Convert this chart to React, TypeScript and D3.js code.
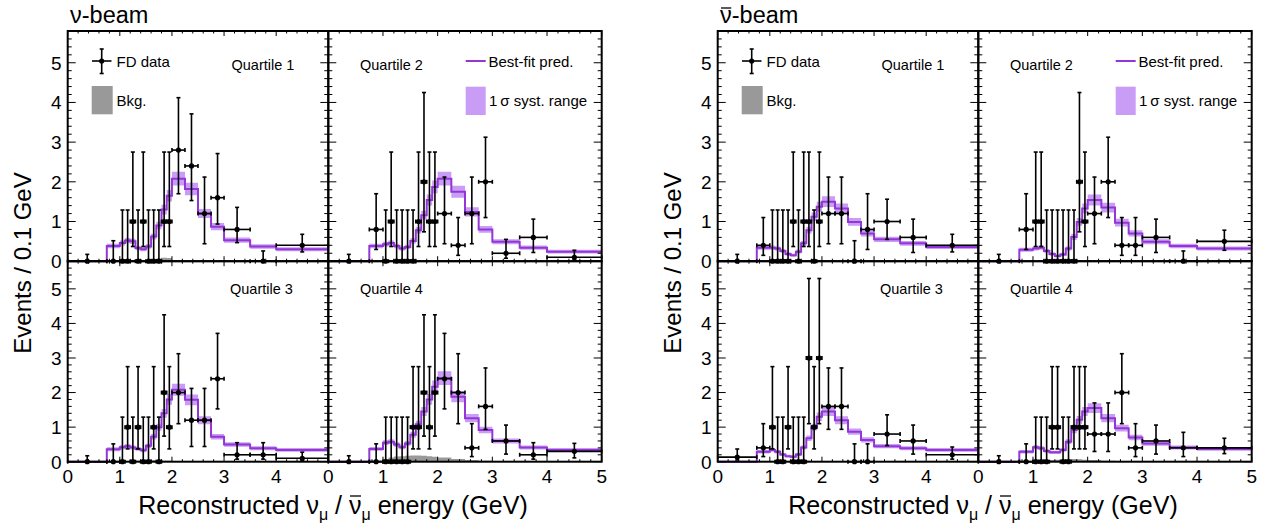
import React, { useLayoutEffect, useRef, useState } from "react";
import * as d3 from "d3";

// bin edges of the reconstructed energy histogram (GeV)
const EDGES = [0, 0.75, 1, 1.1, 1.2, 1.3, 1.4, 1.5, 1.6, 1.7, 1.8, 1.9, 2, 2.25, 2.5, 2.75, 3, 3.5, 4, 5];

// Feldman-Cousins 68% intervals for n observed events (b = 0)
const FC_LOW = [0, 0.37, 0.74, 1.1, 2.34, 2.75, 3.82, 4.25, 5.3];
const FC_HIGH = [1.29, 2.75, 4.25, 5.3, 6.78, 7.81, 9.28, 10.3, 11.32];

// observed FD events per bin
const nuQ1Counts = [0, 0, 0, 0, 1, 0, 1, 0, 0, 0, 1, 1, 7, 6, 3, 4, 4, 0, 4];
const nuQ2Counts = [0, 2, 0, 1, 0, 0, 0, 0, 1, 2, 1, 1, 3, 1, 3, 5, 1, 3, 1];
const nuQ3Counts = [0, 0, 0, 1, 0, 1, 0, 0, 1, 0, 2, 1, 5, 3, 3, 6, 1, 1, 1];
const nuQ4Counts = [0, 0, 0, 0, 0, 0, 0, 1, 1, 2, 1, 2, 6, 5, 1, 4, 3, 1, 3];
const anuQ1Counts = [0, 1, 0, 0, 0, 0, 1, 0, 1, 1, 0, 1, 3, 3, 0, 2, 5, 3, 4];
const anuQ2Counts = [0, 2, 1, 1, 0, 0, 0, 0, 0, 0, 2, 1, 3, 5, 1, 1, 3, 0, 5];
const anuQ3Counts = [1, 1, 1, 0, 0, 1, 0, 0, 0, 3, 1, 3, 4, 4, 0, 0, 4, 3, 2];
const anuQ4Counts = [0, 0, 0, 0, 0, 1, 1, 0, 0, 1, 1, 1, 2, 2, 5, 1, 3, 2, 4];

// best-fit prediction, events / 0.1 GeV
const nuQ1Pred = [0, 0.38, 0.46, 0.52, 0.5, 0.33, 0.3, 0.37, 0.62, 0.9, 1.3, 1.65, 2.08, 1.82, 1.2, 0.87, 0.53, 0.37, 0.3];
const nuQ2Pred = [0, 0.38, 0.43, 0.46, 0.38, 0.32, 0.36, 0.51, 0.78, 1.16, 1.54, 1.87, 2.08, 1.75, 1.24, 0.8, 0.49, 0.34, 0.24];
const nuQ3Pred = [0, 0.36, 0.42, 0.45, 0.41, 0.37, 0.33, 0.46, 0.72, 1.0, 1.4, 1.8, 2.08, 1.79, 1.2, 0.72, 0.5, 0.39, 0.34];
const nuQ4Pred = [0, 0.37, 0.55, 0.58, 0.5, 0.42, 0.53, 0.78, 1.08, 1.45, 1.8, 2.17, 2.42, 1.88, 1.26, 0.92, 0.6, 0.41, 0.34];
const anuQ1Pred = [0, 0.34, 0.34, 0.32, 0.26, 0.18, 0.15, 0.24, 0.45, 0.78, 1.12, 1.37, 1.5, 1.33, 0.99, 0.7, 0.55, 0.45, 0.36];
const anuQ2Pred = [0, 0.29, 0.32, 0.34, 0.26, 0.18, 0.13, 0.17, 0.32, 0.61, 0.99, 1.33, 1.54, 1.35, 0.97, 0.7, 0.49, 0.38, 0.32];
const anuQ3Pred = [0, 0.29, 0.34, 0.29, 0.21, 0.16, 0.14, 0.21, 0.41, 0.68, 1.0, 1.3, 1.45, 1.2, 0.87, 0.63, 0.45, 0.39, 0.34];
const anuQ4Pred = [0, 0.29, 0.42, 0.39, 0.31, 0.27, 0.27, 0.34, 0.58, 0.92, 1.21, 1.45, 1.55, 1.26, 0.97, 0.7, 0.53, 0.41, 0.37];

// background, events / 0.1 GeV
const nuQ1Bkg = [0, 0, 0.01, 0.01, 0.01, 0.01, 0.02, 0.02, 0.04, 0.07, 0.09, 0.08, 0.03, 0.01, 0.01, 0, 0, 0, 0];
const nuQ2Bkg = [0, 0.01, 0.01, 0.01, 0.02, 0.02, 0.02, 0.02, 0.02, 0.02, 0.02, 0.02, 0.01, 0.01, 0.01, 0, 0, 0, 0];
const nuQ3Bkg = [0, 0.01, 0.02, 0.02, 0.03, 0.03, 0.04, 0.04, 0.04, 0.04, 0.03, 0.03, 0.02, 0.01, 0.01, 0.01, 0, 0, 0];
const nuQ4Bkg = [0, 0.03, 0.08, 0.12, 0.15, 0.16, 0.17, 0.18, 0.18, 0.17, 0.16, 0.14, 0.12, 0.08, 0.05, 0.03, 0.02, 0.01, 0.01];
const anuQ1Bkg = [0, 0, 0.01, 0.01, 0.01, 0.01, 0.01, 0.01, 0.02, 0.02, 0.02, 0.01, 0.01, 0.01, 0, 0, 0, 0, 0];
const anuQ2Bkg = [0, 0, 0.01, 0.01, 0.01, 0.01, 0.01, 0.01, 0.02, 0.02, 0.02, 0.01, 0.01, 0.01, 0, 0, 0, 0, 0];
const anuQ3Bkg = [0, 0.01, 0.01, 0.01, 0.02, 0.02, 0.02, 0.03, 0.03, 0.03, 0.02, 0.02, 0.01, 0.01, 0.01, 0, 0, 0, 0];
const anuQ4Bkg = [0, 0.01, 0.02, 0.03, 0.04, 0.05, 0.06, 0.07, 0.08, 0.08, 0.07, 0.06, 0.05, 0.03, 0.02, 0.01, 0.01, 0, 0];

const Y_TICKS = [0, 1, 2, 3, 4, 5];
const X_TICKS = [0, 1, 2, 3, 4, 5];
const SYST_FRAC = 0.07;

const LINE = "#9436d6";
const BAND = "#c99cf6";
const BKG = "#999999";
const FONT = "'Liberation Sans', Arial, Helvetica, sans-serif";

const beams = [
  { anti: false, quartiles: [
    { counts: nuQ1Counts, pred: nuQ1Pred, bkg: nuQ1Bkg },
    { counts: nuQ2Counts, pred: nuQ2Pred, bkg: nuQ2Bkg },
    { counts: nuQ3Counts, pred: nuQ3Pred, bkg: nuQ3Bkg },
    { counts: nuQ4Counts, pred: nuQ4Pred, bkg: nuQ4Bkg },
  ] },
  { anti: true, quartiles: [
    { counts: anuQ1Counts, pred: anuQ1Pred, bkg: anuQ1Bkg },
    { counts: anuQ2Counts, pred: anuQ2Pred, bkg: anuQ2Bkg },
    { counts: anuQ3Counts, pred: anuQ3Pred, bkg: anuQ3Bkg },
    { counts: anuQ4Counts, pred: anuQ4Pred, bkg: anuQ4Bkg },
  ] },
];

function Pad({ left, right, top, bottom, counts, pred, bkg, showY, showX }) {
  const x = d3.scaleLinear().domain([0, 5]).range([left, right]);
  const y = d3.scaleLinear().domain([0, 5.8]).range([bottom, top]);
  const last = pred.length - 1;

  const steps = (vals) => EDGES.map((e, i) => [e, vals[Math.min(i, last)]]);
  const line = d3.line().x((d) => x(d[0])).y((d) => y(d[1])).curve(d3.curveStepAfter);
  const err = (v) => (v > 0 ? SYST_FRAC * v + 0.03 : 0);
  const band = d3.area()
    .x((d) => x(d[0]))
    .y0((d) => y(d[1] - err(d[1])))
    .y1((d) => y(d[1] + err(d[1])))
    .curve(d3.curveStepAfter);
  const bkgArea = d3.area().x((d) => x(d[0])).y0(y(0)).y1((d) => y(d[1])).curve(d3.curveStepAfter);

  const yMinor = d3.range(0, 5.81, 0.2);
  const xMinor = d3.range(0, 5.01, 0.2);

  return (
    <g>
      <path d={bkgArea(steps(bkg))} fill={BKG} />
      <path d={band(steps(pred))} fill={BAND} />
      <path d={line(steps(pred))} fill="none" stroke={LINE} strokeWidth={2} />
      {counts.map((n, i) => {
        const w = (EDGES[i + 1] - EDGES[i]) / 0.1;
        const cx = x((EDGES[i] + EDGES[i + 1]) / 2);
        const cy = y(n / w);
        const lo = y(FC_LOW[n] / w);
        const hi = y(FC_HIGH[n] / w);
        const xl = x(EDGES[i]);
        const xr = x(EDGES[i + 1]);
        return (
          <g key={i} stroke="#000" strokeWidth={1.6}>
            <line x1={cx} x2={cx} y1={lo} y2={hi} />
            <line x1={cx - 2} x2={cx + 2} y1={hi} y2={hi} />
            <line x1={cx - 2} x2={cx + 2} y1={lo} y2={lo} />
            <line x1={xl} x2={xr} y1={cy} y2={cy} />
            <line x1={xl} x2={xl} y1={cy - 2} y2={cy + 2} />
            <line x1={xr} x2={xr} y1={cy - 2} y2={cy + 2} />
            <circle cx={cx} cy={cy} r={2.6} fill="#000" stroke="none" />
          </g>
        );
      })}
      <g stroke="#000" strokeWidth={1}>
        {yMinor.map((t, i) => {
          const major = Math.abs(t - Math.round(t)) < 1e-6;
          const len = major ? 8 : 4;
          return (
            <g key={"y" + i}>
              <line x1={left} x2={left + len} y1={y(t)} y2={y(t)} />
              <line x1={right} x2={right - len} y1={y(t)} y2={y(t)} />
            </g>
          );
        })}
        {xMinor.map((t, i) => {
          const major = Math.abs(t - Math.round(t)) < 1e-6;
          const len = major ? 5 : 2.5;
          return (
            <g key={"x" + i}>
              <line x1={x(t)} x2={x(t)} y1={bottom} y2={bottom - len} />
              <line x1={x(t)} x2={x(t)} y1={top} y2={top + len} />
            </g>
          );
        })}
      </g>
      <rect x={left} y={top} width={right - left} height={bottom - top} fill="none" stroke="#000" strokeWidth={2} />
      {showY && Y_TICKS.map((t) => (
        <text key={t} x={left - 6} y={y(t)} dy="0.36em" textAnchor="end" fontSize={19}>{t}</text>
      ))}
      {showX && X_TICKS.filter((t) => showX === "all" || t < 5).map((t) => (
        <text key={t} x={x(t)} y={bottom + 21} textAnchor="middle" fontSize={19}>{t}</text>
      ))}
    </g>
  );
}

// text whose last "ν" gets a bar drawn over it (anti-neutrino)
function BarText({ x, y, fontSize, anchor = "start", barRise, children }) {
  const ref = useRef(null);
  const [bar, setBar] = useState(null);
  useLayoutEffect(() => {
    const el = ref.current;
    if (!el) return;
    const idx = el.textContent.lastIndexOf("ν");
    if (idx < 0) return;
    const box = el.getExtentOfChar(idx);
    setBar({ x1: box.x + 1, x2: box.x + box.width - 0.5 });
  }, []);
  return (
    <g>
      <text ref={ref} x={x} y={y} fontSize={fontSize} textAnchor={anchor}>
        {children}
      </text>
      {bar && barRise != null && (
        <line x1={bar.x1} x2={bar.x2} y1={y - barRise} y2={y - barRise} stroke="#000" strokeWidth={1.3} />
      )}
    </g>
  );
}

function BeamPlot({ ox, beam }) {
  const xs = [ox + 67.7, ox + 328.3, ox + 601.7];
  const ys = [31, 261.2, 461.7];
  const q = beam.quartiles;
  return (
    <g>
      <Pad left={xs[0]} right={xs[1]} top={ys[0]} bottom={ys[1]} {...q[0]} showY showX={false} />
      <Pad left={xs[1]} right={xs[2]} top={ys[0]} bottom={ys[1]} {...q[1]} showY={false} showX={false} />
      <Pad left={xs[0]} right={xs[1]} top={ys[1]} bottom={ys[2]} {...q[2]} showY showX="left" />
      <Pad left={xs[1]} right={xs[2]} top={ys[1]} bottom={ys[2]} {...q[3]} showY={false} showX="all" />

      <BarText x={ox + 70} y={23} fontSize={23.5} barRise={beam.anti ? 15 : null}>
        ν-beam
      </BarText>

      <text fontSize={14.5} x={ox + 231.5} y={70}>Quartile 1</text>
      <text fontSize={14.5} x={ox + 360} y={70}>Quartile 2</text>
      <text fontSize={14.5} x={ox + 230} y={293.5}>Quartile 3</text>
      <text fontSize={14.5} x={ox + 360} y={293.5}>Quartile 4</text>

      {/* legend, left pad */}
      <g stroke="#000" strokeWidth={1.6}>
        <line x1={ox + 92} x2={ox + 111.5} y1={61} y2={61} />
        <line x1={ox + 101.7} x2={ox + 101.7} y1={49} y2={73.5} />
        <line x1={ox + 99.7} x2={ox + 103.7} y1={49} y2={49} />
        <line x1={ox + 99.7} x2={ox + 103.7} y1={73.5} y2={73.5} />
        <circle cx={ox + 101.7} cy={61} r={2.6} fill="#000" stroke="none" />
      </g>
      <text fontSize={15} x={ox + 116.5} y={66.5}>FD data</text>
      <rect x={ox + 91.7} y={86} width={21} height={28.3} fill={BKG} />
      <text fontSize={15} x={ox + 116.5} y={106}>Bkg.</text>

      {/* legend, right pad */}
      <line x1={ox + 465.7} x2={ox + 485.7} y1={61} y2={61} stroke={LINE} strokeWidth={2} />
      <text fontSize={15} x={ox + 488.5} y={66.5}>Best-fit pred.</text>
      <rect x={ox + 465.7} y={86.7} width={20} height={28.3} fill={BAND} />
      <text fontSize={15} x={ox + 489} y={106}>1{"\u2009"}σ syst. range</text>

      <text transform={`translate(${ox + 31},263) rotate(-90)`} textAnchor="middle" fontSize={24}>
        Events / 0.1 GeV
      </text>
      <BarText x={ox + 333} y={514} fontSize={25} anchor="middle" barRise={18}>
        Reconstructed ν<tspan dy={6} fontSize={16}>μ</tspan>
        <tspan dy={-6}> / ν</tspan>
        <tspan dy={6} fontSize={16}>μ</tspan>
        <tspan dy={-6}> energy (GeV)</tspan>
      </BarText>
    </g>
  );
}

export default function App() {
  return (
    <svg
      width={1267}
      height={524}
      style={{ position: "absolute", left: 0, top: 0, background: "#fff", fontFamily: FONT }}
    >
      {beams.map((b, i) => (
        <BeamPlot key={i} ox={i * 650} beam={b} />
      ))}
    </svg>
  );
}
